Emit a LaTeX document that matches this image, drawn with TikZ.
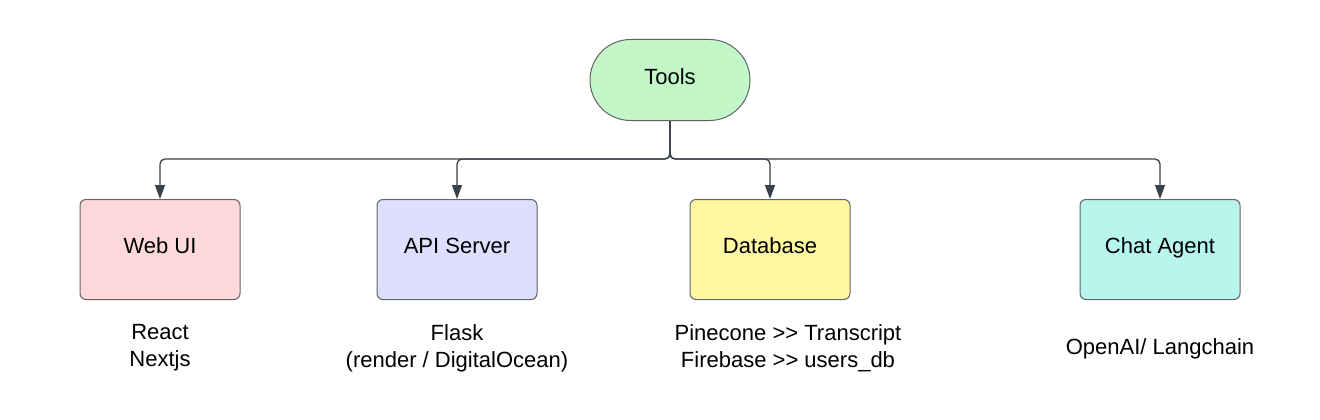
\documentclass[tikz,border=0pt]{standalone}
\usepackage{fontspec}
\setmainfont{Liberation Sans}
\usetikzlibrary{arrows.meta,shapes.misc}
\definecolor{linec}{HTML}{3A414A}
\definecolor{borderc}{HTML}{5F6368}
\definecolor{toolsc}{HTML}{C3F7C8}
\definecolor{webc}{HTML}{FFD9D9}
\definecolor{apic}{HTML}{DEDFFF}
\definecolor{dbc}{HTML}{FFF7A1}
\definecolor{chatc}{HTML}{B8F5ED}
\newcommand{\gtgt}{>\kern0pt>}
\tikzset{
  txt/.style={font=\fontsize{22}{27}\selectfont, text=black},
  box/.style={txt, draw=borderc, line width=1pt, rounded corners=6pt,
    minimum width=160pt, minimum height=100pt, inner sep=0pt,
    text height=16pt, text depth=8pt},
  pill/.style={txt, draw=borderc, line width=1pt, rounded rectangle,
    minimum width=160pt, minimum height=81pt, inner sep=0pt,
    text height=16pt, text depth=7pt},
  conn/.style={draw=linec, line width=1.3pt, rounded corners=5pt,
    -{Triangle[length=14pt,width=10pt]}},
  note/.style={txt, align=center, inner sep=0pt}
}
\begin{document}
\begin{tikzpicture}[x=1pt,y=-1pt]
\useasboundingbox (0,0) rectangle (1320,420);
\node[pill, fill=toolsc] (tools) at (670,80) {Tools};
\node[box, fill=webc] (web) at (160,249.5) {Web UI};
\node[box, fill=apic] (api) at (457,249.5) {API Server};
\node[box, fill=dbc] (db) at (770,249.5) {Database};
\node[box, fill=chatc] (chat) at (1160,249.5) {Chat Agent};
\coordinate (j) at (670,159);
\draw[conn] (tools.south) -- (j) -| (web.north);
\draw[conn] (tools.south) -- (j) -| (api.north);
\draw[conn] (tools.south) -- (j) -| (db.north);
\draw[conn] (tools.south) -- (j) -| (chat.north);
\node[note] (n1) at (160,348) {React\\Nextjs};
\node[note] (n2) at (457,348) {Flask\\(render / DigitalOcean)};
\node[note] (n3) at (788,348) {Pinecone \gtgt{} Transcript\\Firebase \gtgt{} users\_db};
\node[note] (n4) at (1160,349) {OpenAI/ Langchain};
\end{tikzpicture}
\end{document}
